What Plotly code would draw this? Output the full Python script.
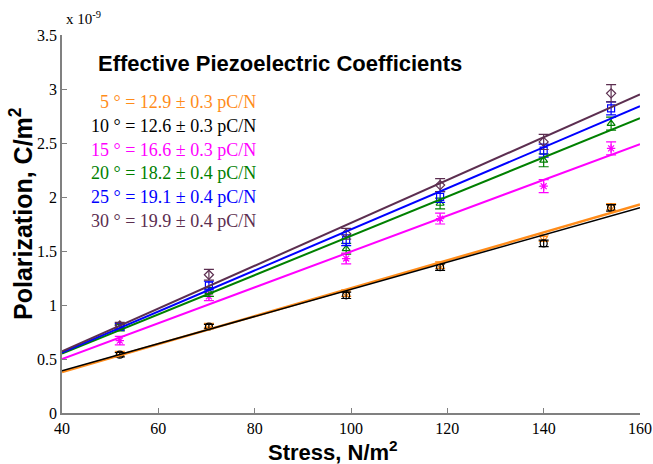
import plotly.graph_objects as go

# Data (values in units of 1e-9 C/m^2)
stress = [52, 70.5, 99, 118.5, 140, 154]

labels = ["5 °", "10 °", "15 °", "20 °", "25 °", "30 °"]
coeffs = ["12.9 ± 0.3 pC/N", "12.6 ± 0.3 pC/N", "16.6 ± 0.3 pC/N",
          "18.2 ± 0.4 pC/N", "19.1 ± 0.4 pC/N", "19.9 ± 0.4 pC/N"]

pol_5 = [0.55, 0.81, 1.11, 1.37, 1.62, 1.91]
pol_10 = [0.54, 0.80, 1.09, 1.35, 1.57, 1.90]
pol_15 = [0.67, 1.08, 1.43, 1.80, 2.10, 2.45]
pol_20 = [0.79, 1.12, 1.52, 1.94, 2.34, 2.68]
pol_25 = [0.80, 1.18, 1.60, 2.00, 2.43, 2.82]
pol_30 = [0.81, 1.28, 1.66, 2.11, 2.51, 2.96]

err_5 = [0.02, 0.02, 0.03, 0.03, 0.03, 0.03]
err_10 = [0.02, 0.02, 0.03, 0.03, 0.03, 0.03]
err_15 = [0.04, 0.04, 0.05, 0.05, 0.06, 0.06]
err_20 = [0.03, 0.04, 0.05, 0.05, 0.06, 0.06]
err_25 = [0.03, 0.04, 0.05, 0.05, 0.06, 0.06]
err_30 = [0.03, 0.05, 0.05, 0.06, 0.07, 0.08]

fit_x = [40, 160]
fit_5 = [0.38, 1.93]
fit_10 = [0.39, 1.90]
fit_15 = [0.50, 2.49]
fit_20 = [0.55, 2.73]
fit_25 = [0.56, 2.84]
fit_30 = [0.57, 2.95]

colors = ["#FF8C1A", "#000000", "#FF00FF", "#008000", "#0000FF", "#5C2E50"]
symbols = ["triangle-down-open", "circle-open", "asterisk-open",
           "triangle-up-open", "square-open", "diamond-open"]

pols = [pol_5, pol_10, pol_15, pol_20, pol_25, pol_30]
errs = [err_5, err_10, err_15, err_20, err_25, err_30]
fits = [fit_5, fit_10, fit_15, fit_20, fit_25, fit_30]
widths = [2.5, 1.5, 2, 2, 2, 2]

FIG_W, FIG_H = 653, 464
L, R, T, B = 62, 640, 35, 413
W, H = R - L, B - T


def px(x):
    return (x - L) / W


def py(y):
    return (B - y) / H


fig = go.Figure()

for i in range(6):
    fig.add_trace(go.Scatter(
        x=stress, y=pols[i], mode="markers",
        marker=dict(symbol=symbols[i], color=colors[i], size=7,
                    line=dict(width=1.2, color=colors[i])),
        error_y=dict(type="data", array=errs[i], color=colors[i],
                     thickness=1.2, width=5),
        showlegend=False, cliponaxis=False))

for i in range(6):
    fig.add_trace(go.Scatter(
        x=fit_x, y=fits[i], mode="lines",
        line=dict(color=colors[i], width=widths[i]),
        showlegend=False))

fig.add_annotation(xref="paper", yref="paper", x=px(96), y=py(63),
                   xanchor="left", yanchor="middle",
                   text="<b>Effective Piezoelectric Coefficients</b>",
                   showarrow=False,
                   font=dict(family="Liberation Sans, Arial", size=22, color="#000000"))

ypix = [102, 126, 150, 173, 197, 221]
for i in range(6):
    fig.add_annotation(xref="paper", yref="paper", x=px(258), y=py(ypix[i]),
                       xanchor="right", yanchor="middle",
                       text=f"{labels[i]} = {coeffs[i]}", showarrow=False,
                       font=dict(family="Liberation Serif, Times New Roman", size=18, color=colors[i]))

fig.add_annotation(xref="paper", yref="paper", x=px(64), y=py(18),
                   xanchor="left", yanchor="middle",
                   text="x 10<sup>-9</sup>", showarrow=False,
                   font=dict(family="Liberation Serif, Times New Roman", size=15, color="#000000"))

# axis titles
fig.add_annotation(xref="paper", yref="paper", x=px(333), y=py(451),
                   xanchor="center", yanchor="middle",
                   text="<b>Stress, N/m<sup>2</sup></b>", showarrow=False,
                   font=dict(family="Liberation Sans, Arial", size=22, color="#000000"))
fig.add_annotation(xref="paper", yref="paper", x=px(21), y=py(214),
                   xanchor="center", yanchor="middle", textangle=-90,
                   text="<b>Polarization, C/m<sup>2</sup></b>", showarrow=False,
                   font=dict(family="Liberation Sans, Arial", size=25, color="#000000"))

fig.update_layout(
    width=FIG_W, height=FIG_H,
    margin=dict(l=L, r=FIG_W - R, t=T, b=FIG_H - B, autoexpand=False),
    paper_bgcolor="white", plot_bgcolor="white",
    font=dict(family="Liberation Serif, Times New Roman", size=16, color="#000000"),
    xaxis=dict(range=[40, 160], tickvals=[40, 60, 80, 100, 120, 140, 160],
               showline=True, linecolor="#808080", linewidth=1.5,
               ticks="inside", ticklen=5, tickcolor="#808080",
               showgrid=False, zeroline=False, automargin=False),
    yaxis=dict(range=[0, 3.5], tickvals=[0, 0.5, 1, 1.5, 2, 2.5, 3, 3.5],
               ticktext=["0", "0.5", "1", "1.5", "2", "2.5", "3", "3.5"],
               showline=True, linecolor="#808080", linewidth=1.5,
               ticks="inside", ticklen=5, tickcolor="#808080",
               showgrid=False, zeroline=False, automargin=False),
)

fig.write_html("out.html", config={"displayModeBar": False},
               post_script="document.body.style.margin='0';document.body.style.overflow='hidden';")
